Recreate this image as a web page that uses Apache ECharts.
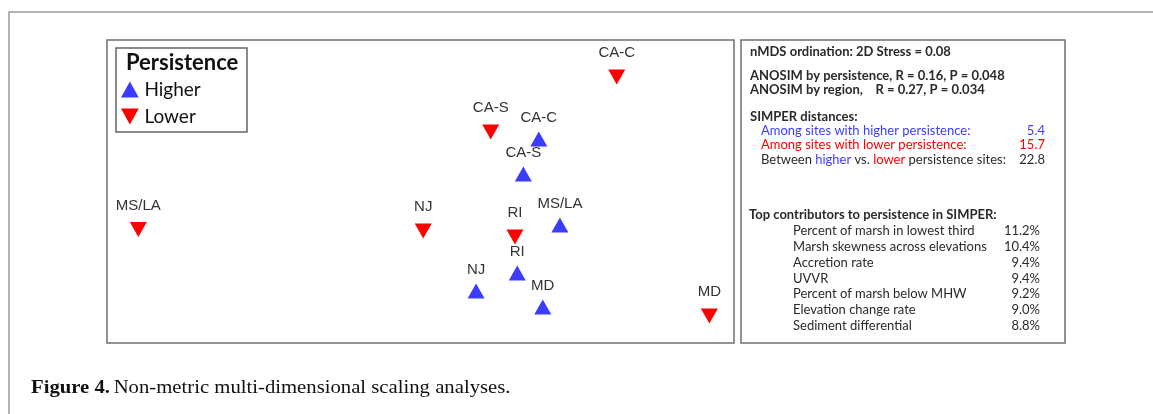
<!DOCTYPE html>
<html>
<head>
<meta charset="utf-8">
<title>nMDS ordination of marsh sites</title>
<script src="https://cdn.jsdelivr.net/npm/echarts@6/dist/echarts.min.js"></script>
<style>
  html, body { margin: 0; padding: 0; background: #fff; }
  #chart { width: 1153px; height: 414px; }
</style>
</head>
<body>
<div id="chart"></div>
<script>
// nMDS site scores (axis 1, axis 2) grouped by marsh persistence
const higherSites = ['CA-C', 'CA-S', 'MS/LA', 'RI', 'NJ', 'MD'];
const higherX = [0.566, 0.492, 0.667, 0.463, 0.266, 0.585];
const higherY = [0.347, 0.116, -0.221, -0.538, -0.657, -0.762];

const lowerSites = ['CA-C', 'CA-S', 'NJ', 'RI', 'MS/LA', 'MD'];
const lowerX = [0.939, 0.336, 0.013, 0.452, -1.350, 1.382];
const lowerY = [0.756, 0.393, -0.261, -0.300, -0.251, -0.822];

// Test statistics shown beside the ordination
const stressLine = 'nMDS ordination: 2D Stress = 0.08';
const anosimLines = ['ANOSIM by persistence, R = 0.16, P = 0.048', 'ANOSIM by region,    R = 0.27, P = 0.034'];
const simperTitle = 'SIMPER distances:';
const simperHigherLabel = 'Among sites with higher persistence:';
const simperHigherValue = '5.4';
const simperLowerLabel = 'Among sites with lower persistence:';
const simperLowerValue = '15.7';
const simperBetweenValue = '22.8';
const contribTitle = 'Top contributors to persistence in SIMPER:';
const contribNames = [
  'Percent of marsh in lowest third',
  'Marsh skewness across elevations',
  'Accretion rate',
  'UVVR',
  'Percent of marsh below MHW',
  'Elevation change rate',
  'Sediment differential'
];
const contribPct = ['11.2%', '10.4%', '9.4%', '9.4%', '9.2%', '9.0%', '8.8%'];

const BLUE = '#3c3cff';
const RED = '#ff0000';
const INK = '#2a2a2a';
const UP = 'path://M5,0 L10,9 L0,9 Z';
const DOWN = 'path://M0,0 L10,0 L5,9 Z';
const PANEL_FONT = 'Lato, "Open Sans", sans-serif';

function points(xs, ys, names) {
  return xs.map((x, i) => ({ value: [x, ys[i]], name: names[i] }));
}

const chart = echarts.init(document.getElementById('chart'), null, { renderer: 'canvas' });

const graphics = [];
// outer figure frame
graphics.push({ type: 'rect', shape: { x: 9, y: 12, width: 1170, height: 430 },
  style: { fill: 'none', stroke: '#9a9a9a', lineWidth: 1.5 }, silent: true });
// statistics panel frame
graphics.push({ type: 'rect', shape: { x: 741, y: 40, width: 324, height: 303 },
  style: { fill: '#fff', stroke: '#6f6f6f', lineWidth: 1.5 }, silent: true });
// legend frame and heading
graphics.push({ type: 'rect', shape: { x: 116, y: 48, width: 131, height: 84 },
  style: { fill: '#fff', stroke: '#666', lineWidth: 1.5 }, z: 10, silent: true });
graphics.push({ type: 'text', x: 126, y: 63, z: 11, silent: true,
  style: { text: 'Persistence', font: 'bold 22px ' + PANEL_FONT, fill: '#111', verticalAlign: 'middle' } });

function panelText(text, x, y, opts) {
  const o = opts || {};
  graphics.push({ type: 'text', x: x, y: y, silent: true, z: 5,
    style: Object.assign({ text: text, font: (o.bold ? 'bold ' : '') + '13px ' + PANEL_FONT,
      fill: o.fill || INK, verticalAlign: 'middle', align: o.align || 'left' }, o.extra || {}) });
}

panelText(stressLine, 750, 52, { bold: true });
panelText(anosimLines[0], 750, 75.5, { bold: true });
panelText(anosimLines[1], 750, 90, { bold: true });
panelText(simperTitle, 750, 116.5, { bold: true });
panelText(simperHigherLabel, 761, 130.5, { fill: BLUE });
panelText(simperHigherValue, 1045, 130.5, { fill: BLUE, align: 'right' });
panelText(simperLowerLabel, 761, 145, { fill: RED });
panelText(simperLowerValue, 1045, 145, { fill: RED, align: 'right' });
panelText('{k|Between }{b|higher}{k| vs. }{r|lower}{k| persistence sites:}', 761, 159.5, {
  extra: { rich: {
    k: { fill: INK, font: '13px ' + PANEL_FONT },
    b: { fill: BLUE, font: '13px ' + PANEL_FONT },
    r: { fill: RED, font: '13px ' + PANEL_FONT }
  } }
});
panelText(simperBetweenValue, 1045, 159.5, { align: 'right' });
panelText(contribTitle, 749, 215, { bold: true });
contribNames.forEach((name, i) => {
  const y = 231 + i * 15.8;
  panelText(name, 793, y);
  panelText(contribPct[i], 1040, y, { align: 'right' });
});

// figure caption
graphics.push({ type: 'text', x: 31, y: 388, scaleX: 1.09, silent: true,
  style: { text: '{b|Figure 4.} {n|Non-metric multi-dimensional scaling analyses.}',
    verticalAlign: 'middle',
    rich: {
      b: { font: 'bold 19px "Liberation Serif", serif', fill: '#111' },
      n: { font: '19px "Liberation Serif", serif', fill: '#111' }
    } } });

const labelBase = { show: true, position: 'top', formatter: '{b}', color: '#333',
  fontFamily: '"Liberation Sans", Arial, sans-serif', fontSize: 15 };

chart.setOption({
  animation: false,
  backgroundColor: '#fff',
  grid: { left: 107, top: 40, width: 627, height: 303, show: true,
    borderColor: '#6f6f6f', borderWidth: 1.5, backgroundColor: 'transparent' },
  xAxis: { type: 'value', min: -1.5, max: 1.5, show: false },
  yAxis: { type: 'value', min: -1, max: 1, show: false },
  legend: {
    orient: 'vertical', left: 121, top: 80, padding: 0, itemGap: 8,
    itemWidth: 19, itemHeight: 16, z: 12,
    textStyle: { fontFamily: PANEL_FONT, fontSize: 19, color: '#111' },
    data: [{ name: 'Higher', icon: UP }, { name: 'Lower', icon: DOWN }]
  },
  series: [
    { name: 'Higher', type: 'scatter', symbol: UP, symbolSize: [17, 15],
      itemStyle: { color: BLUE, opacity: 1 },
      label: Object.assign({}, labelBase, { distance: 6 }),
      data: points(higherX, higherY, higherSites) },
    { name: 'Lower', type: 'scatter', symbol: DOWN, symbolSize: [17, 15],
      itemStyle: { color: RED, opacity: 1 },
      label: Object.assign({}, labelBase, { distance: 9 }),
      data: points(lowerX, lowerY, lowerSites) }
  ],
  graphic: graphics
});
</script>
</body>
</html>
